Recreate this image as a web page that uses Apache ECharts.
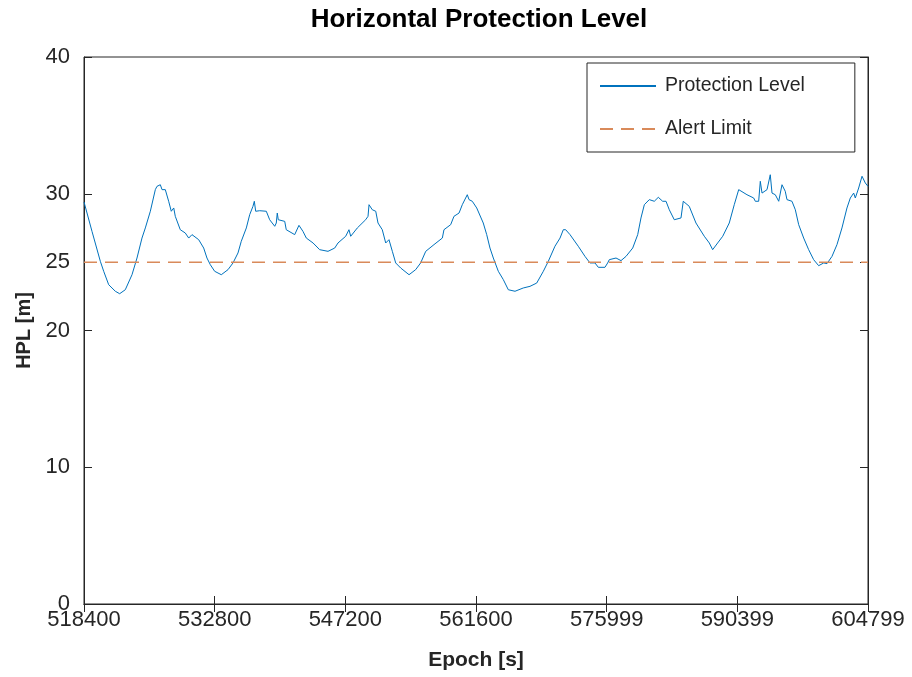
<!DOCTYPE html>
<html>
<head>
<meta charset="utf-8">
<script src="https://cdn.jsdelivr.net/npm/echarts@6/dist/echarts.min.js"></script>
<style>
html,body{margin:0;padding:0;background:#fff;}
#chart{width:912px;height:677px;}
</style>
</head>
<body>
<div id="chart"></div>
<script>
const epochs = [518400,519280,520200,520570,521120,521850,522330,522950,523690,524240,524790,525160,525710,526260,526440,526810,527000,527360,527730,528020,528290,528460,529010,529560,529940,530300,531040,531590,531950,532320,532800,533530,534270,534820,535370,535730,536290,536660,537020,537170,537320,537760,538490,538860,539420,539590,539700,539810,540520,540690,541620,541800,542090,542530,542900,543640,544370,545290,546030,546390,547240,547600,547790,548520,549440,549700,549810,550170,550550,550800,551270,551650,552010,552380,552750,553300,554220,554950,555500,556060,556970,557890,558070,558810,559170,559730,560090,560640,560830,561190,561680,561850,562400,562780,563140,563510,564060,564610,565160,565900,566810,567550,568290,569020,569570,570300,570860,571220,571480,571960,572870,573610,574160,574710,575080,575810,576110,576290,577030,577580,578130,578870,579420,579780,580150,580700,581250,581690,582170,582540,582900,583450,584190,584440,585100,585840,586760,587310,587680,588230,588790,589510,590060,590550,590720,591460,592200,592380,592750,592930,593120,593670,594030,594220,594580,594960,595320,595680,595870,596420,596790,597160,597710,598260,598810,599360,599920,600280,600830,601380,601930,602480,602850,603220,603400,603770,604140,604500,604799];
const hpl = [29.4,27.25,25.06,24.33,23.35,22.87,22.69,22.98,24.08,25.30,26.76,27.50,28.72,30.30,30.54,30.66,30.30,30.30,29.45,28.72,28.96,28.35,27.37,27.13,26.76,27.01,26.64,26.03,25.30,24.81,24.33,24.08,24.45,24.94,25.67,26.52,27.50,28.47,29.08,29.45,28.72,28.76,28.72,28.10,27.62,27.86,28.59,28.10,27.98,27.37,27.01,26.89,27.69,27.25,26.76,26.40,25.91,25.79,26.03,26.40,26.89,27.37,26.89,27.50,28.10,28.35,29.20,28.83,28.72,27.86,27.37,26.40,26.64,25.79,24.94,24.57,24.08,24.45,24.94,25.79,26.28,26.76,27.37,27.74,28.35,28.59,29.20,29.93,29.57,29.45,28.96,28.83,27.86,27.01,26.03,25.30,24.33,23.72,22.98,22.87,23.11,23.23,23.47,24.33,25.06,26.16,26.76,27.37,27.37,27.01,26.16,25.42,24.94,24.94,24.62,24.62,24.94,25.18,25.30,25.11,25.42,26.03,27.01,28.23,29.20,29.57,29.45,29.74,29.45,29.45,28.83,28.10,28.23,29.45,29.08,27.86,26.89,26.40,25.91,26.40,26.89,27.86,29.20,30.30,30.30,29.93,29.69,29.45,29.45,30.91,30.05,30.30,31.39,30.05,29.93,29.45,30.66,30.18,29.57,29.45,28.83,27.74,26.76,25.91,25.18,24.74,24.94,24.89,25.42,26.28,27.50,28.96,29.69,30.05,29.69,30.42,31.28,30.79,30.54];
const alertEpochs = [518400, 604799];
const alertValues = [25, 25];
const xTicks = [518400, 532800, 547200, 561600, 575999, 590399, 604799];
const yTicks = [0, 10, 20, 25, 30, 40];
const titleText = 'Horizontal Protection Level';
const xName = 'Epoch [s]';
const yName = 'HPL [m]';
const seriesNames = ['Protection Level', 'Alert Limit'];

const FONT = 'Liberation Sans';
const chart = echarts.init(document.getElementById('chart'));
const axisColor = '#262626';
const tickCommon = { show: true, inside: true, length: 8, lineStyle: { color: axisColor } };

chart.setOption({
  backgroundColor: '#fff',
  animation: false,
  title: {
    text: titleText, left: 474, top: 2, textAlign: 'center',
    textStyle: { fontFamily: FONT, fontSize: 26, fontWeight: 'bold', color: '#000' }
  },
  legend: {
    orient: 'vertical', left: 587, top: 63,
    padding: [13, 50, 13, 12], itemGap: 23,
    itemWidth: 56, itemHeight: 20,
    backgroundColor: '#fff', borderColor: axisColor, borderWidth: 1,
    itemStyle: { opacity: 0 },
    textStyle: { fontFamily: FONT, fontSize: 19.5, color: '#262626', padding: [0, 0, 0, 4] },
    data: seriesNames
  },
  grid: { left: 84, right: 44, top: 57, bottom: 73, show: true, borderColor: axisColor, borderWidth: 1, containLabel: false },
  xAxis: [{
    type: 'value', min: 518400, max: 604799,
    name: xName, nameLocation: 'middle', nameGap: 46,
    nameTextStyle: { fontFamily: FONT, fontSize: 21, fontWeight: 'bold', color: '#262626' },
    axisLine: { show: true, lineStyle: { color: axisColor } },
    axisTick: Object.assign({ customValues: xTicks }, tickCommon),
    axisLabel: { customValues: xTicks, formatter: v => String(v), margin: 5, fontFamily: FONT, fontSize: 22, color: '#262626' },
    splitLine: { show: false }
  }, {
    type: 'value', min: 518400, max: 604799, position: 'top',
    axisLine: { show: true, lineStyle: { color: axisColor } },
    axisTick: Object.assign({ customValues: xTicks }, tickCommon),
    axisLabel: { show: false }, splitLine: { show: false }
  }],
  yAxis: [{
    type: 'value', min: 0, max: 40,
    name: yName, nameLocation: 'middle', nameGap: 49, nameRotate: 90,
    nameTextStyle: { fontFamily: FONT, fontSize: 20, fontWeight: 'bold', color: '#262626' },
    axisLine: { show: true, lineStyle: { color: axisColor } },
    axisTick: Object.assign({ customValues: yTicks }, tickCommon),
    axisLabel: { customValues: yTicks, formatter: v => String(v), margin: 14, fontFamily: FONT, fontSize: 22, color: '#262626' },
    splitLine: { show: false }
  }, {
    type: 'value', min: 0, max: 40, position: 'right',
    axisLine: { show: true, lineStyle: { color: axisColor } },
    axisTick: Object.assign({ customValues: yTicks }, tickCommon),
    axisLabel: { show: false }, splitLine: { show: false }
  }],
  series: [{
    name: seriesNames[0], type: 'line', xAxisIndex: 0, yAxisIndex: 0,
    data: epochs.map((e, i) => [e, hpl[i]]),
    showSymbol: false, symbol: 'none',
    lineStyle: { color: '#0072BD', width: 1 },
    itemStyle: { color: '#0072BD' }
  }, {
    name: seriesNames[1], type: 'line', xAxisIndex: 0, yAxisIndex: 0,
    data: alertEpochs.map((e, i) => [e, alertValues[i]]),
    showSymbol: false, symbol: 'none',
    lineStyle: { color: '#D98A5A', width: 1.5, type: [13, 8] },
    itemStyle: { color: '#D98A5A' }
  }]
});
</script>
</body>
</html>
